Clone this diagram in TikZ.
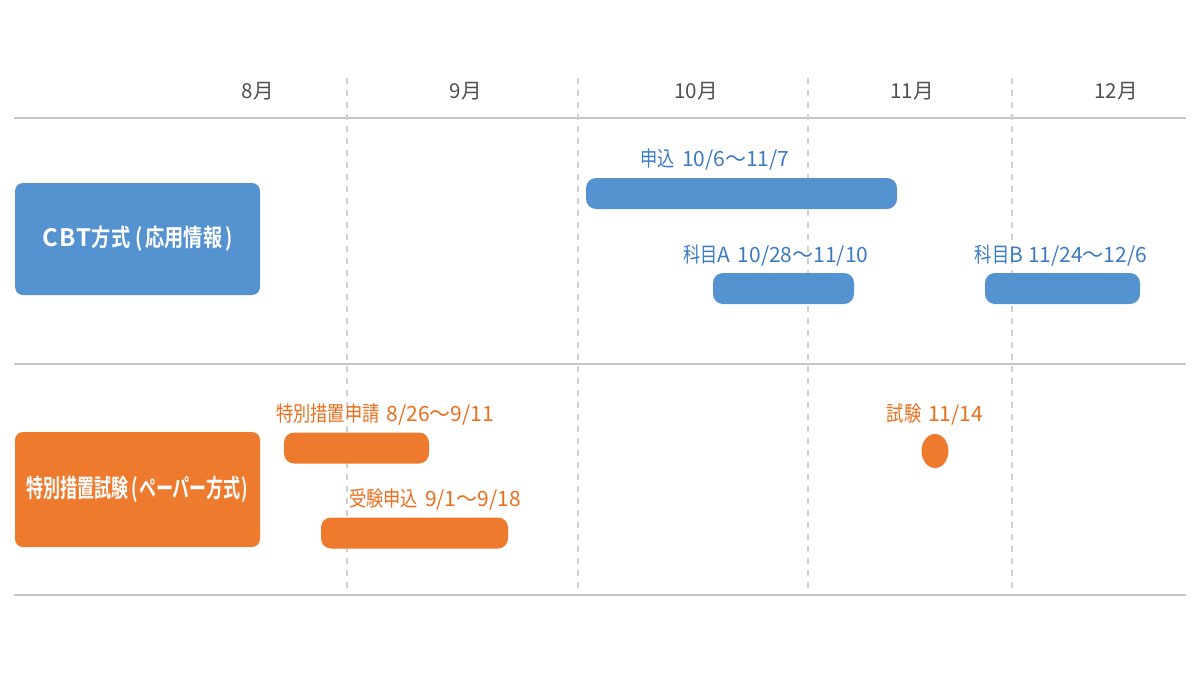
\documentclass[tikz,border=0pt]{standalone}
\usepackage{fontspec}
\setmainfont{Noto Sans CJK JP}
\newfontfamily\cbtfont[FakeStretch=0.8]{Noto Sans CJK JP Bold}
\newfontfamily\cbtlatin{Noto Sans CJK JP Bold}
\newfontfamily\ppfont[FakeStretch=0.68]{Noto Sans CJK JP Bold}
\newfontfamily\cjl[FakeStretch=0.82]{Noto Sans CJK JP}
\newcommand{\cj}[1]{{\cjl #1}}
\usetikzlibrary{shapes.geometric}
\definecolor{gridgray}{HTML}{C6C6C6}
\definecolor{dashgray}{HTML}{CFCFCF}
\definecolor{monthgray}{HTML}{505050}
\definecolor{cbtblue}{HTML}{5592D0}
\definecolor{bluetext}{HTML}{3C7BC4}
\definecolor{ppporange}{HTML}{EE7A2D}
\definecolor{orangetext}{HTML}{EA6E1C}
\tikzset{
  hline/.style={draw=gridgray, line width=1pt},
  vdash/.style={draw=dashgray, line width=0.6pt, dash pattern=on 3pt off 3pt},
  month/.style={text=monthgray, font=\fontsize{10.3}{12}\selectfont, inner sep=0pt},
  catbox/.style={rounded corners=4pt, minimum width=122.5pt, inner sep=0pt, text=white},
  bar/.style={rounded corners=5pt, minimum height=15.5pt, inner sep=0pt},
  bluebar/.style={bar, fill=cbtblue},
  orangebar/.style={bar, fill=ppporange},
  bluelabel/.style={text=bluetext, font=\fontsize{10.5}{12}\selectfont, inner sep=0pt},
  orangelabel/.style={text=orangetext, font=\fontsize{10.5}{12}\selectfont, inner sep=0pt},
}
\begin{document}
\begin{tikzpicture}[x=0.5pt, y=-0.5pt]
\useasboundingbox[fill=white] (0,0) rectangle (1200,675);
% grid
\coordinate (tl) at (14,118); \coordinate (tr) at (1186,118);
\coordinate (ml) at (14,364); \coordinate (mr) at (1186,364);
\coordinate (bl) at (14,595); \coordinate (br) at (1186,595);
\draw[hline] (tl) -- (tr);
\draw[hline] (ml) -- (mr);
\draw[hline] (bl) -- (br);
\foreach \x [count=\i] in {347,578,808,1012}{
  \coordinate (d\i t) at (\x,78); \coordinate (d\i b) at (\x,590);
  \draw[vdash] (d\i t) -- (d\i b);
}
% months
\node[month] (m8) at (258,91) {8月};
\node[month] (m9) at (466,91) {9月};
\node[month] (m10) at (696,91) {10月};
\node[month] (m11) at (912,91) {11月};
\node[month] (m12) at (1116,91) {12月};
% categories
\node[catbox, fill=cbtblue, minimum height=56pt, font=\cbtfont\fontsize{12}{14}\selectfont] (cbt) at (137.5,239) {{\cbtlatin C\kern0.6pt B\kern0.6pt T}方式\kern2.5pt(\kern1.5pt 応用情報\kern1.5pt)};
\node[catbox, fill=ppporange, minimum height=57.5pt, font=\ppfont\fontsize{12.5}{14}\selectfont] (paper) at (137.5,489.5) {特別措置試験\kern1.5pt(\kern0.5pt ペーパー方式\kern0.5pt)};
% CBT bars
\node[bluebar, minimum width=155.5pt] (moushikomi) at (741.5,193.5) {};
\node[bluelabel] (moushikomiL) at (715,160) {\cj{申込}\kern3.5pt 10/6～11/7};
\node[bluebar, minimum width=70.5pt] (kamokuA) at (783.5,288.5) {};
\node[bluelabel] (kamokuAL) at (776,256) {\cj{科目}A\kern3.5pt 10/28～11/10};
\node[bluebar, minimum width=77.5pt] (kamokuB) at (1062.5,288.5) {};
\node[bluelabel] (kamokuBL) at (1061,256) {\cj{科目}B\kern2.5pt 11/24～12/6};
% paper bars
\node[orangebar, minimum width=72.5pt] (tokubetsu) at (356.5,448) {};
\node[orangelabel] (tokubetsuL) at (385,415) {\cj{特別措置申請}\kern3.5pt 8/26～9/11};
\node[orangebar, minimum width=93.5pt] (juken) at (414.5,533) {};
\node[orangelabel] (jukenL) at (435,500) {\cj{受験申込}\kern3.5pt 9/1～9/18};
\node[ellipse, fill=ppporange, minimum width=13.5pt, minimum height=17pt, inner sep=0pt] (shiken) at (935,451) {};
\node[orangelabel] (shikenL) at (935,415) {\cj{試験}\kern3.5pt 11/14};
\end{tikzpicture}
\end{document}
